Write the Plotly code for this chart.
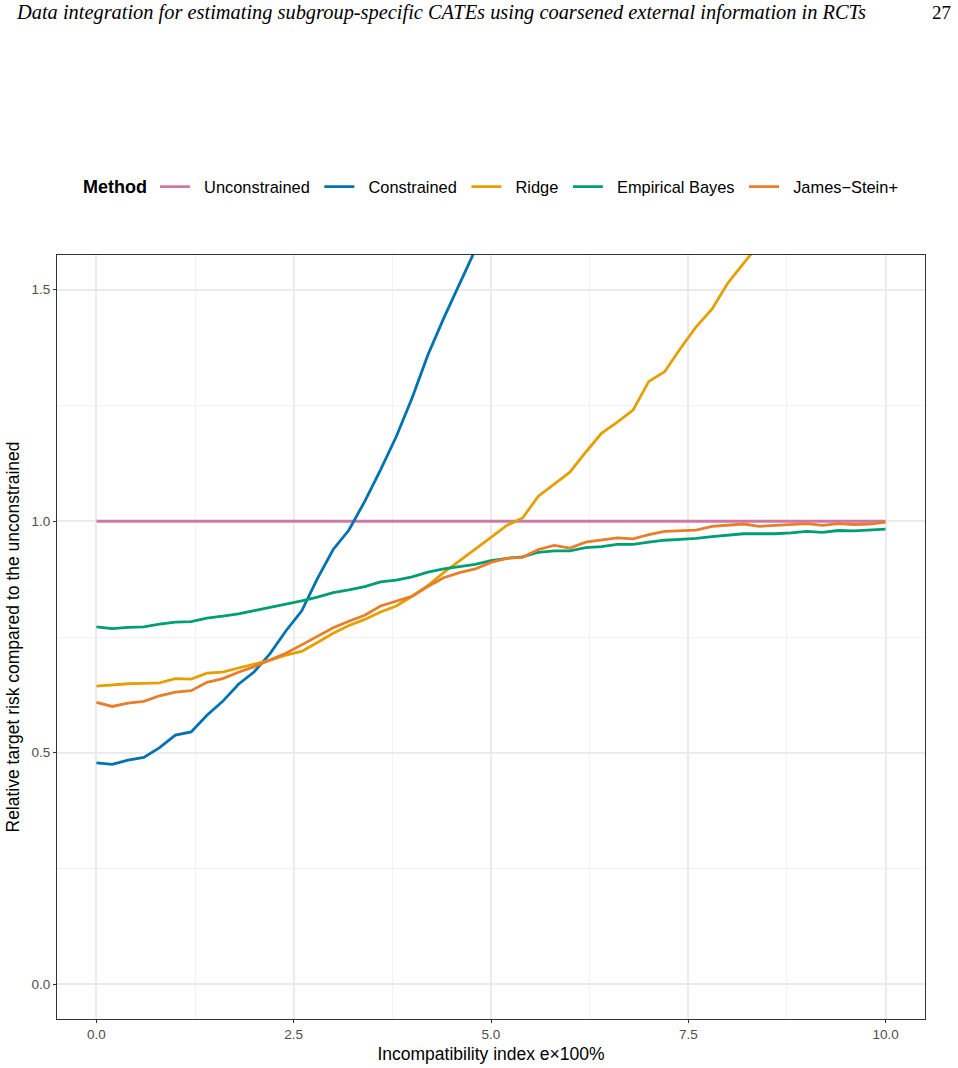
import plotly.graph_objects as go

# ---- data ----
x_index = [0.0, 0.2, 0.4, 0.6, 0.8, 1.0, 1.2, 1.4, 1.6, 1.8,
           2.0, 2.2, 2.4, 2.6, 2.8, 3.0, 3.2, 3.4, 3.6, 3.8,
           4.0, 4.2, 4.4, 4.6, 4.8, 5.0, 5.2, 5.4, 5.6, 5.8,
           6.0, 6.2, 6.4, 6.6, 6.8, 7.0, 7.2, 7.4, 7.6, 7.8,
           8.0, 8.2, 8.4, 8.6, 8.8, 9.0, 9.2, 9.4, 9.6, 9.8, 10.0]

unconstrained = [1.0, 1.0, 1.0, 1.0, 1.0, 1.0, 1.0, 1.0, 1.0, 1.0,
                 1.0, 1.0, 1.0, 1.0, 1.0, 1.0, 1.0, 1.0, 1.0, 1.0,
                 1.0, 1.0, 1.0, 1.0, 1.0, 1.0, 1.0, 1.0, 1.0, 1.0,
                 1.0, 1.0, 1.0, 1.0, 1.0, 1.0, 1.0, 1.0, 1.0, 1.0,
                 1.0, 1.0, 1.0, 1.0, 1.0, 1.0, 1.0, 1.0, 1.0, 1.0, 1.0]

constrained = [0.478, 0.475, 0.484, 0.490, 0.511, 0.538, 0.545, 0.581, 0.611, 0.648,
               0.675, 0.714, 0.763, 0.806, 0.876, 0.939, 0.981, 1.043, 1.111, 1.183,
               1.266, 1.359, 1.438, 1.514, 1.590, 1.660]

ridge = [0.644, 0.647, 0.649, 0.650, 0.651, 0.660, 0.659, 0.672, 0.674, 0.683,
         0.692, 0.700, 0.711, 0.719, 0.738, 0.758, 0.775, 0.788, 0.804, 0.817,
         0.838, 0.861, 0.889, 0.914, 0.938, 0.965, 0.991, 1.007, 1.054, 1.081,
         1.106, 1.149, 1.190, 1.214, 1.240, 1.302, 1.323, 1.373, 1.420, 1.458,
         1.514, 1.557, 1.600, 1.640]

empirical_bayes = [0.772, 0.768, 0.771, 0.772, 0.778, 0.782, 0.783, 0.791, 0.795, 0.800,
                   0.807, 0.814, 0.820, 0.828, 0.836, 0.846, 0.852, 0.859, 0.869, 0.873,
                   0.880, 0.890, 0.897, 0.902, 0.907, 0.915, 0.920, 0.923, 0.933, 0.936,
                   0.936, 0.943, 0.945, 0.950, 0.950, 0.955, 0.959, 0.961, 0.963, 0.967,
                   0.970, 0.973, 0.973, 0.973, 0.975, 0.978, 0.976, 0.980, 0.979, 0.981, 0.983]

james_stein = [0.609, 0.600, 0.607, 0.611, 0.623, 0.631, 0.634, 0.652, 0.660, 0.674,
               0.686, 0.700, 0.715, 0.733, 0.751, 0.770, 0.784, 0.797, 0.817, 0.828,
               0.838, 0.859, 0.878, 0.889, 0.897, 0.911, 0.920, 0.922, 0.939, 0.948,
               0.942, 0.955, 0.960, 0.964, 0.962, 0.971, 0.978, 0.980, 0.981, 0.989,
               0.991, 0.994, 0.989, 0.991, 0.992, 0.995, 0.991, 0.995, 0.993, 0.994, 0.998]

methods = ["Unconstrained", "Constrained", "Ridge", "Empirical Bayes", "James\u2212Stein+"]
series = [unconstrained, constrained, ridge, empirical_bayes, james_stein]
colors = ["#CC79A7", "#0072B2", "#E69F00", "#009E73", "#E87D2A"]

x_ticks = [0.0, 2.5, 5.0, 7.5, 10.0]
x_ticklabels = ["0.0", "2.5", "5.0", "7.5", "10.0"]
y_ticks = [0.0, 0.5, 1.0, 1.5]
y_ticklabels = ["0.0", "0.5", "1.0", "1.5"]

header = "Data integration for estimating subgroup-specific CATEs using coarsened external information in RCTs"
page_no = "27"

# ---- figure ----
W, H = 958, 1068
ML, MR, MT, MB = 57, 33, 255, 49
PW, PH = W - ML - MR, H - MT - MB

def px_x(px):
    return (px - ML) / PW

def px_y(py):
    return (H - MB - py) / PH

NB = "\u00a0"

fig = go.Figure()
for name, ys, col in zip(methods, series, colors):
    fig.add_trace(go.Scatter(
        x=x_index[:len(ys)], y=ys, mode="lines", name=NB * 2 + name + NB,
        line=dict(color=col, width=2.8),
    ))

font_family = "Liberation Sans, Arial, sans-serif"

fig.update_layout(
    width=W, height=H,
    margin=dict(l=ML, r=MR, t=MT, b=MB, autoexpand=False),
    paper_bgcolor="white", plot_bgcolor="white",
    font=dict(family=font_family, color="black"),
    showlegend=True,
    legend=dict(
        orientation="h",
        x=px_x(81), xanchor="left",
        y=px_y(187), yanchor="middle",
        title=dict(text="<b>Method</b>", side="left", font=dict(size=18, color="black")),
        font=dict(size=16.4, color="black"),
        itemwidth=30,
        tracegroupgap=0,
    ),
    xaxis=dict(
        range=[-0.5, 10.5], automargin=False,
        tickmode="array", tickvals=x_ticks, ticktext=x_ticklabels,
        ticks="outside", ticklen=3, tickcolor="#333333", tickwidth=1,
        tickfont=dict(size=13.5, color="#4D4D4D"),
        showgrid=True, gridcolor="#EBEBEB", gridwidth=1.5,
        minor=dict(tickmode="array", tickvals=[1.25, 3.75, 6.25, 8.75],
                   showgrid=True, gridcolor="#F2F2F2", gridwidth=1, ticks=""),
        zeroline=False,
        showline=True, mirror=True, linecolor="#333333", linewidth=1.2,
        title=dict(text="Incompatibility index e\u00d7100%", font=dict(size=17.5, color="black"), standoff=6),
    ),
    yaxis=dict(
        range=[-0.075, 1.575], automargin=False,
        tickmode="array", tickvals=y_ticks, ticktext=y_ticklabels,
        ticks="outside", ticklen=3, tickcolor="#333333", tickwidth=1,
        tickfont=dict(size=13.5, color="#4D4D4D"),
        showgrid=True, gridcolor="#EBEBEB", gridwidth=1.5,
        minor=dict(tickmode="array", tickvals=[0.25, 0.75, 1.25],
                   showgrid=True, gridcolor="#F2F2F2", gridwidth=1, ticks=""),
        zeroline=False,
        showline=True, mirror=True, linecolor="#333333", linewidth=1.2,
        title=dict(text="Relative target risk compared to the unconstrained", font=dict(size=17.5, color="black"), standoff=7),
    ),
)

fig.add_annotation(
    text="<i>" + header + "</i>", xref="paper", yref="paper",
    x=px_x(14), y=px_y(12), xanchor="left", yanchor="middle", showarrow=False,
    font=dict(family="Liberation Serif, DejaVu Serif, serif", size=20.4, color="black"),
)
fig.add_annotation(
    text=page_no, xref="paper", yref="paper",
    x=px_x(953), y=px_y(12), xanchor="right", yanchor="middle", showarrow=False,
    font=dict(family="Liberation Serif, DejaVu Serif, serif", size=19, color="black"),
)

fig.write_html("out.html")
